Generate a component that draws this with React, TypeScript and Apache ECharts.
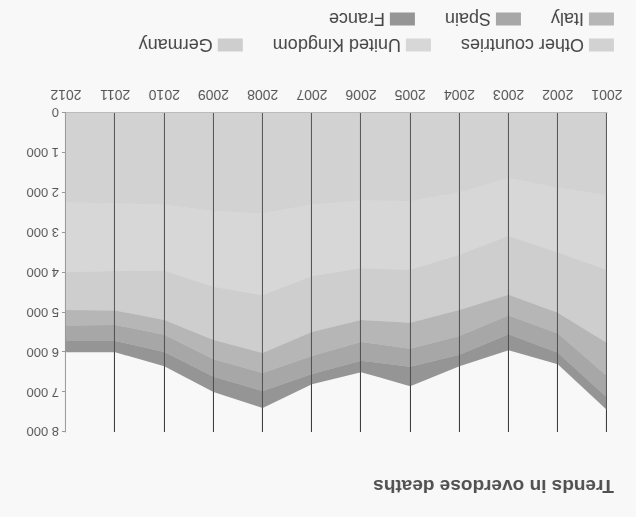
import React, { useEffect, useRef } from "react";
import * as echarts from "echarts";

const years = ["2001", "2002", "2003", "2004", "2005", "2006", "2007", "2008", "2009", "2010", "2011", "2012"];
const otherCountries = [2055, 1877, 1633, 1995, 2204, 2194, 2296, 2521, 2459, 2303, 2264, 2246];
const unitedKingdom = [1880, 1620, 1450, 1560, 1730, 1700, 1800, 2050, 1900, 1650, 1700, 1750];
const germany = [1835, 1513, 1477, 1385, 1326, 1296, 1394, 1449, 1331, 1237, 986, 944];
const italy = [825, 520, 517, 653, 653, 551, 606, 502, 484, 374, 365, 390];
const spain = [540, 480, 470, 470, 450, 470, 450, 450, 440, 430, 400, 390];
const france = [315, 290, 403, 287, 487, 289, 254, 428, 386, 356, 285, 280];

const seriesNames = ["Other countries", "United Kingdom", "Germany", "Italy", "Spain", "France"];
const seriesData = [otherCountries, unitedKingdom, germany, italy, spain, france];
const seriesColors = [
  "rgba(140,140,140,0.35)",
  "rgba(140,140,140,0.30)",
  "rgba(140,140,140,0.39)",
  "rgba(110,110,110,0.48)",
  "rgba(100,100,100,0.55)",
  "rgba(90,90,90,0.63)",
];

const FONT = "'Liberation Sans', Arial, sans-serif";

export default function App() {
  const ref = useRef<HTMLDivElement>(null);
  useEffect(() => {
    if (!ref.current) return;
    const chart = echarts.init(ref.current, undefined, { renderer: "svg" });
    const legendCommon = {
      left: 17,
      icon: "rect",
      itemWidth: 25,
      itemHeight: 13,
      itemGap: 30,
      textStyle: { fontSize: 18, color: "#444", fontFamily: FONT },
    };
    chart.setOption({
      animation: false,
      backgroundColor: "#f8f8f8",
      title: {
        text: "Trends in overdose deaths",
        left: 17,
        top: 16,
        textStyle: { fontSize: 19, fontWeight: "bold", color: "#505050", fontFamily: FONT },
      },
      legend: [
        { ...legendCommon, top: 458, data: seriesNames.slice(0, 3) },
        { ...legendCommon, top: 484, data: seriesNames.slice(3) },
      ],
      grid: { left: 29, right: 66, top: 85, bottom: 113 },
      xAxis: {
        type: "category",
        boundaryGap: false,
        data: years,
        axisLine: { show: true, lineStyle: { color: "#bbb" } },
        axisTick: { show: false },
        axisLabel: { fontSize: 14, color: "#555", margin: 11, fontFamily: FONT },
        splitLine: { show: true, lineStyle: { color: "#333", width: 1 } },
      },
      yAxis: {
        type: "value",
        position: "right",
        min: 0,
        max: 8000,
        interval: 1000,
        axisLine: { show: true, lineStyle: { color: "#999" } },
        axisTick: { show: true, length: 4, lineStyle: { color: "#999" } },
        splitLine: { show: false },
        axisLabel: {
          fontSize: 13,
          color: "#555",
          margin: 7,
          fontFamily: FONT,
          formatter: (v: number) => (v >= 1000 ? `${Math.floor(v / 1000)} ${String(v % 1000).padStart(3, "0")}` : String(v)),
        },
      },
      series: seriesNames.map((name, i) => ({
        name,
        type: "line",
        stack: "total",
        data: seriesData[i],
        showSymbol: false,
        symbol: "none",
        lineStyle: { width: 0 },
        itemStyle: { color: seriesColors[i] },
        areaStyle: { color: seriesColors[i], opacity: 1 },
      })),
    });
    return () => chart.dispose();
  }, []);
  return (
    <div
      ref={ref}
      style={{
        position: "fixed",
        left: 0,
        top: 0,
        width: 636,
        height: 517,
        transform: "rotate(180deg)",
      }}
    />
  );
}
